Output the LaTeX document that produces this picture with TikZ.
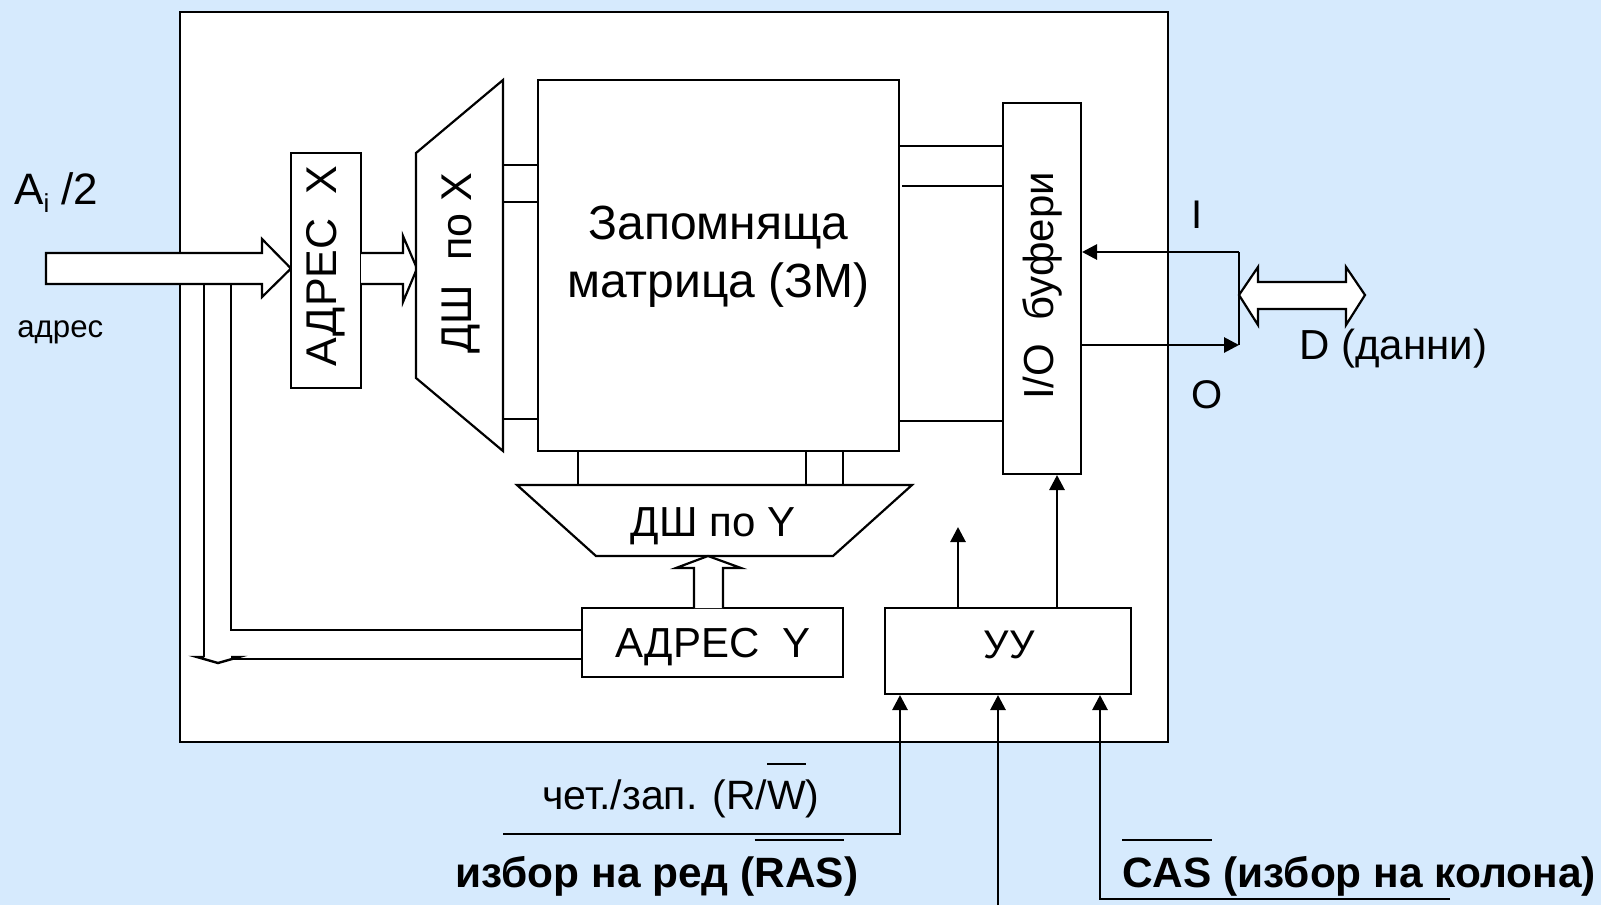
\documentclass[tikz,border=0pt]{standalone}
\usepackage{fontspec}
\setmainfont{Liberation Sans}
\usetikzlibrary{arrows.meta}
\definecolor{bg}{RGB}{214,234,253}
\newcommand{\ovl}[1]{\vbox{\hrule height 1.1pt\kern 8pt\hbox{#1}}}
\begin{document}
\begin{tikzpicture}[x=0.5pt,y=-0.5pt,
  box/.style={draw,line width=1pt,fill=white,inner sep=0pt},
  conn/.style={line width=1.2pt},
  arr/.style={line width=1.4pt,-{Triangle[length=7.5pt,width=7.5pt]}},
  hollow/.style={draw,line width=1.1pt,fill=white,line join=miter},
  txt/.style={inner sep=0pt,font=\fontsize{21}{25}\selectfont},
]
\fill[bg] (0,0) rectangle (1601,905);
\useasboundingbox (0,0) rectangle (1601,905);

% outer chip
\node[box,minimum width=494pt,minimum height=365pt] (outer) at (674,377) {};

% input address bus
\draw[hollow] (46,253) -- (262,253) -- (262,239) -- (291,268.5) -- (262,297) -- (262,284) -- (46,284) -- cycle;
\node[txt,anchor=base west,font=\fontsize{22}{26}\selectfont] (ai) at (14,204) {A\raisebox{-4pt}{\fontsize{13}{13}\selectfont i} /2};
\node[txt,anchor=base west,font=\fontsize{15.6}{18}\selectfont] (adr) at (17,337) {адрес};

% ADRES X
\node[box,minimum width=35pt,minimum height=117.5pt] (adrx) at (326,270.5) {};
\node[txt,rotate=90,font=\fontsize{21.5}{25}\selectfont] (adrxt) at (326,266) {АДРЕС\ \ X};

% arrow ADRES X -> DSH X
\draw[hollow] (361,253) -- (403,253) -- (403,236) -- (417,268.5) -- (403,302) -- (403,284) -- (361,284);

% DSH X trapezoid
\coordinate (dx1) at (416,153);
\coordinate (dx2) at (503,80);
\coordinate (dx3) at (503,451);
\coordinate (dx4) at (416,378);
\draw[hollow] (dx1) -- (dx2) -- (dx3) -- (dx4) -- cycle;
\node[txt,rotate=90,font=\fontsize{21.5}{25}\selectfont] (dshxt) at (461,263) {ДШ\ \ по X};

% matrix
\node[box,minimum width=180.5pt,minimum height=185.5pt] (mat) at (718.5,265.5) {};
\node[txt,align=center,font=\fontsize{24}{29}\selectfont] (matt) at (718.5,257) {Запомняща\\матрица (ЗМ)};

% I/O buffers
\node[box,minimum width=39pt,minimum height=185.5pt] (io) at (1042,288.5) {};
\node[txt,rotate=90] (iot) at (1042,286) {I/O\ \ буфери};

% DSH Y trapezoid
\coordinate (dy1) at (517,485);
\coordinate (dy2) at (912,485);
\coordinate (dy3) at (833,556);
\coordinate (dy4) at (596,556);
\draw[hollow] (dy1) -- (dy2) -- (dy3) -- (dy4) -- cycle;
\node[txt] (dshyt) at (713,526) {ДШ по Y};

% ADRES Y
\node[box,minimum width=130.5pt,minimum height=34.5pt] (adry) at (712.5,642.5) {};
\node[txt] (adryt) at (713,647) {АДРЕС\ \ Y};

% UU
\node[box,minimum width=123pt,minimum height=43pt] (uu) at (1008,651) {};
\node[txt,font=\fontsize{20}{24}\selectfont] (uut) at (1009,645) {УУ};

% DSH X -> matrix lines
\coordinate (lx1) at (503,165);
\coordinate (lx2) at (503,202);
\coordinate (lx3) at (503,419);
\foreach \c in {lx1,lx2,lx3} \draw[conn] (\c) -- (\c -| mat.west);

% matrix -> I/O lines
\coordinate (lr1) at (899,146);
\coordinate (lr2) at (902,186);
\coordinate (lr3) at (899,421);
\foreach \c in {lr1,lr2,lr3} \draw[conn] (\c) -- (\c -| io.west);

% matrix -> DSH Y lines
\coordinate (ly1) at (578,485);
\coordinate (ly2) at (806,485);
\coordinate (ly3) at (843,485);
\foreach \c in {ly1,ly2,ly3} \draw[conn] (\c |- mat.south) -- (\c);

% ADRES Y -> DSH Y hollow arrow
\draw[hollow] (694,608) -- (694,568) -- (676,568) -- (708,556) -- (741,568) -- (723,568) -- (723,608);

% address bus to ADRES Y
\coordinate (bl) at (204,284);
\coordinate (br) at (231,284);
\coordinate (bt) at (231,630);
\coordinate (bb) at (231,659);
\draw[conn] (bl) -- (204,657);
\draw[conn] (br) -- (bt) -- (bt -| adry.west);
\draw[conn] (bb) -- (bb -| adry.west);
\draw[conn,line join=miter] (204,657) -- (197,657) -- (218,663) -- (239,657) -- (231,657);

% I/O data paths
\coordinate (jI) at (1239,252);
\coordinate (jO) at (1239,345);
\draw[arr] (jI) -- (jI -| io.east);
\draw[arr] (jO -| io.east) -- (jO);
\draw[conn] (jI) -- (jO);
\draw[hollow] (1239,295) -- (1258,267) -- (1258,282) -- (1346,282) -- (1346,267) -- (1365,295) -- (1346,325) -- (1346,309) -- (1258,309) -- (1258,325) -- cycle;
\node[txt,font=\fontsize{20}{24}\selectfont] (It) at (1197,215) {I};
\node[txt,anchor=base,font=\fontsize{20}{24}\selectfont] (Ot) at (1207,408) {O};
\node[txt,anchor=base west,font=\fontsize{21}{25}\selectfont] (Dt) at (1299,359) {D (данни)};

% UU outputs
\coordinate (u1) at (958,527);
\coordinate (u2) at (1057,600);
\draw[arr] (u1 |- uu.north) -- (u1);
\draw[arr] (u2 |- uu.north) -- (u2 |- io.south);

% UU inputs
\coordinate (rw) at (503,834);
\coordinate (rwc) at (900,834);
\coordinate (ras) at (998,905);
\coordinate (cas) at (1450,899);
\coordinate (casc) at (1100,899);
\draw[arr] (rw) -- (rwc) -- (rwc |- uu.south);
\draw[arr] (ras) -- (ras |- uu.south);
\draw[arr] (cas) -- (casc) -- (casc |- uu.south);

\node[txt,anchor=base,font=\fontsize{20.5}{24}\selectfont] (rwt) at (681,809) {чет./зап. (R/\ovl{W})};
\node[txt,anchor=base,font=\bfseries\fontsize{21.2}{25}\selectfont] (rast) at (657,887) {избор на ред (\ovl{RAS})};
\node[txt,anchor=base,font=\bfseries\fontsize{21.2}{25}\selectfont] (cast) at (1359,887) {\ovl{CAS} (избор на колона)};
\end{tikzpicture}
\end{document}
